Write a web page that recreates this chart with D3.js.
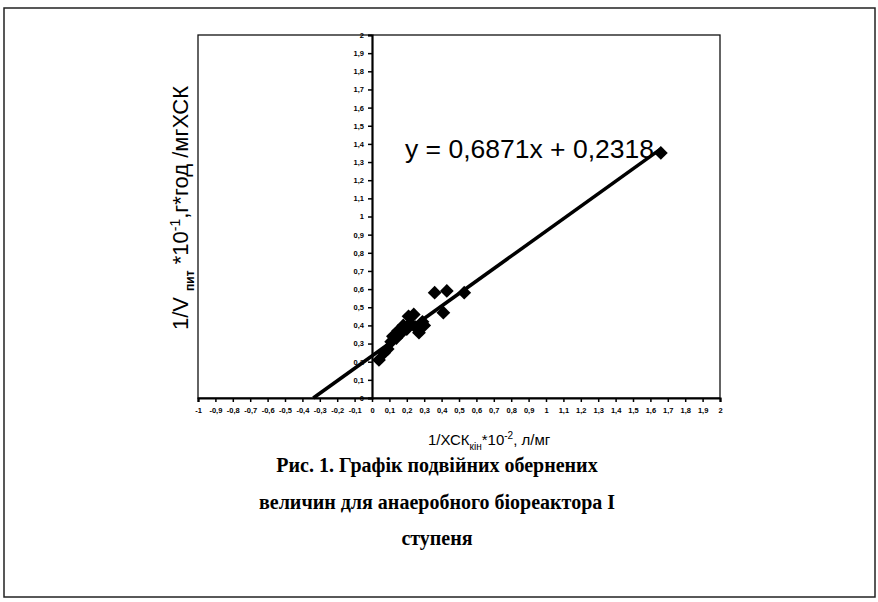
<!DOCTYPE html>
<html>
<head>
<meta charset="utf-8">
<script src="https://cdn.jsdelivr.net/npm/d3@7"></script>
<style>
body { margin: 0; background: #fff; }
svg { display: block; }
</style>
</head>
<body>
<script>
// data
var xTicks = [-1, -0.9, -0.8, -0.7, -0.6, -0.5, -0.4, -0.3, -0.2, -0.1, 0, 0.1, 0.2, 0.3, 0.4, 0.5, 0.6, 0.7, 0.8, 0.9, 1, 1.1, 1.2, 1.3, 1.4, 1.5, 1.6, 1.7, 1.8, 1.9, 2];
var yTicks = [0, 0.1, 0.2, 0.3, 0.4, 0.5, 0.6, 0.7, 0.8, 0.9, 1, 1.1, 1.2, 1.3, 1.4, 1.5, 1.6, 1.7, 1.8, 1.9, 2];
var ptsX = [0.04, 0.07, 0.09, 0.11, 0.12, 0.14, 0.15, 0.17, 0.18, 0.20, 0.21, 0.22, 0.24, 0.25, 0.27, 0.29, 0.30, 0.36, 0.41, 0.43, 0.53, 1.66];
var ptsY = [0.21, 0.25, 0.27, 0.31, 0.34, 0.33, 0.37, 0.36, 0.40, 0.38, 0.45, 0.41, 0.46, 0.39, 0.36, 0.42, 0.40, 0.58, 0.47, 0.59, 0.58, 1.35];
var slope = 0.6871, icept = 0.2318;
var captionLines = ['Рис. 1. Графік подвійних обернених', 'величин для анаеробного біореактора І', 'ступеня'];

var width = 878, height = 602;
var svg = d3.select('body').append('svg')
	.attr('width', width)
	.attr('height', height);

// outer frame
svg.append('rect')
	.attr('x', 4).attr('y', 8)
	.attr('width', 871).attr('height', 589)
	.style('fill', 'none')
	.attr('stroke', '#222')
	.attr('stroke-width', 1.5);

var pLeft = 198, pRight = 720, pTop = 35, pBottom = 398;
var x = d3.scaleLinear().domain([-1, 2]).range([pLeft, pRight]);
var y = d3.scaleLinear().domain([0, 2]).range([pBottom, pTop]);

// plot box
svg.append('rect')
	.attr('x', pLeft).attr('y', pTop)
	.attr('width', pRight - pLeft).attr('height', pBottom - pTop)
	.style('fill', 'none')
	.attr('stroke', '#111')
	.attr('stroke-width', 1.3);

var fmt = function(d) { return String(+d.toFixed(1)).replace('.', ','); };

// x axis
var xAxis = svg.append('g')
	.attr('transform', 'translate(0,' + y(0) + ')')
	.call(d3.axisBottom(x).tickValues(xTicks).tickFormat(fmt).tickSize(4).tickPadding(6));

// y axis sits at x = 0
var yAxis = svg.append('g')
	.attr('transform', 'translate(' + x(0) + ',0)')
	.call(d3.axisLeft(y).tickValues(yTicks).tickFormat(fmt).tickSize(4).tickPadding(4));

[xAxis, yAxis].forEach(function(a) {
	a.select('.domain').attr('stroke', '#000').attr('stroke-width', 2.2);
	a.selectAll('.tick line').attr('stroke', '#000').attr('stroke-width', 1.5);
	a.selectAll('.tick text')
		.style('font-family', 'Arial, "Liberation Sans", sans-serif')
		.style('font-size', '7.5px')
		.style('font-weight', 'bold')
		.style('fill', '#000');
});

// trend line
var x0 = -icept / slope, x1 = 1.66;
svg.append('line')
	.attr('x1', x(x0)).attr('y1', y(0))
	.attr('x2', x(x1)).attr('y2', y(slope * x1 + icept))
	.attr('stroke', '#000')
	.attr('stroke-width', 3.5);

// points
var pts = ptsX.map(function(d, i) { return [d, ptsY[i]]; });
svg.selectAll('path.pt')
	.data(pts)
	.enter().append('path')
	.attr('class', 'pt')
	.attr('d', d3.symbol().type(d3.symbolSquare).size(95))
	.attr('transform', function(d) { return 'translate(' + x(d[0]) + ',' + y(d[1]) + ') rotate(45)'; })
	.style('fill', '#000');

// equation
svg.append('text')
	.attr('x', 405).attr('y', 158)
	.text('y = 0,6871x + 0,2318')
	.style('font-family', 'Arial, "Liberation Sans", sans-serif')
	.style('font-size', '26.5px')
	.style('fill', '#000');

// y label
var yl = svg.append('text')
	.attr('transform', 'translate(188,208) rotate(-90)')
	.attr('text-anchor', 'middle')
	.style('font-family', 'Arial, "Liberation Sans", sans-serif')
	.style('font-size', '22px')
	.style('fill', '#000');
yl.append('tspan').text('1/V ');
yl.append('tspan').attr('dy', 6).style('font-size', '12px').style('font-weight', 'bold').text('пит');
yl.append('tspan').attr('dy', -6).text(' *10');
yl.append('tspan').attr('dy', -8).style('font-size', '14px').text('-1');
yl.append('tspan').attr('dy', 8).text(',г*год /мгХСК');

// x label
var xl = svg.append('text')
	.attr('x', 428).attr('y', 445)
	.style('font-family', 'Arial, "Liberation Sans", sans-serif')
	.style('font-size', '15px')
	.style('fill', '#000');
xl.append('tspan').text('1/ХСК');
xl.append('tspan').attr('dy', 5).style('font-size', '10px').text('кін');
xl.append('tspan').attr('dy', -5).text('*10');
xl.append('tspan').attr('dy', -6).style('font-size', '10px').text('-2');
xl.append('tspan').attr('dy', 6).text(', л/мг');

// caption
svg.selectAll('text.cap')
	.data(captionLines)
	.enter().append('text')
	.attr('class', 'cap')
	.attr('x', 437)
	.attr('y', function(d, i) { return 472 + i * 36.5; })
	.attr('text-anchor', 'middle')
	.text(function(d) { return d; })
	.style('font-family', '"Liberation Serif", "Times New Roman", serif')
	.style('font-weight', 'bold')
	.style('font-size', '20px')
	.style('fill', '#000');
</script>
</body>
</html>
